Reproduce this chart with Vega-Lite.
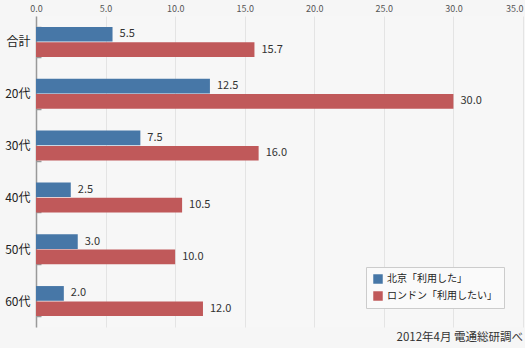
{
  "$schema": "https://vega.github.io/schema/vega-lite/v6.json",
  "width": 487,
  "height": 311,
  "autosize": {"type": "none"},
  "padding": {"left": 36, "top": 16, "right": 2, "bottom": 21},
  "background": "#f6f6f6",
  "config": {
    "font": "Noto Sans CJK JP",
    "view": {"stroke": null, "fill": "#f7f7f7"}
  },
  "title": {
    "text": "2012年4月 電通総研調べ",
    "orient": "bottom",
    "anchor": "end",
    "offset": 5,
    "fontSize": 11.5,
    "fontWeight": "normal",
    "color": "#333333",
    "font": "Noto Sans CJK JP"
  },
  "data": {
    "values": [
      {"category": "合計", "series": "北京「利用した」", "value": 5.5},
      {"category": "合計", "series": "ロンドン「利用したい」", "value": 15.7},
      {"category": "20代", "series": "北京「利用した」", "value": 12.5},
      {"category": "20代", "series": "ロンドン「利用したい」", "value": 30.0},
      {"category": "30代", "series": "北京「利用した」", "value": 7.5},
      {"category": "30代", "series": "ロンドン「利用したい」", "value": 16.0},
      {"category": "40代", "series": "北京「利用した」", "value": 2.5},
      {"category": "40代", "series": "ロンドン「利用したい」", "value": 10.5},
      {"category": "50代", "series": "北京「利用した」", "value": 3.0},
      {"category": "50代", "series": "ロンドン「利用したい」", "value": 10.0},
      {"category": "60代", "series": "北京「利用した」", "value": 2.0},
      {"category": "60代", "series": "ロンドン「利用したい」", "value": 12.0}
    ]
  },
  "encoding": {
    "y": {
      "field": "category",
      "type": "nominal",
      "sort": ["合計", "20代", "30代", "40代", "50代", "60代"],
      "scale": {"paddingInner": 0.42, "paddingOuter": 0.21},
      "axis": {
        "title": null,
        "domainColor": "#999999",
        "domainWidth": 1.5,
        "tickColor": "#999999",
        "tickWidth": 1.5,
        "tickSize": -5,
        "tickBand": "extent",
        "labelPadding": 11,
        "labelFontSize": 12,
        "labelColor": "#222222",
        "grid": false
      }
    },
    "yOffset": {
      "field": "series",
      "type": "nominal",
      "sort": ["北京「利用した」", "ロンドン「利用したい」"],
      "scale": {"paddingInner": 0.04}
    },
    "x": {
      "field": "value",
      "type": "quantitative",
      "scale": {"domain": [0, 35], "nice": false},
      "axis": {
        "orient": "top",
        "title": null,
        "values": [0, 5, 10, 15, 20, 25, 30, 35],
        "format": ".1f",
        "domain": false,
        "ticks": false,
        "labelPadding": 3,
        "labelFontSize": 9,
        "labelColor": "#555555",
        "labelAlign": {"condition": {"test": "datum.value == 35", "value": "right"}, "value": "center"},
        "grid": true,
        "gridColor": "#e4e4e4",
        "gridWidth": 1
      }
    }
  },
  "layer": [
    {
      "mark": {"type": "bar"},
      "encoding": {
        "color": {
          "field": "series",
          "type": "nominal",
          "sort": ["北京「利用した」", "ロンドン「利用したい」"],
          "scale": {"range": ["#4777a7", "#c0595a"]},
          "legend": {
            "title": null,
            "orient": "bottom-right",
            "offset": 19,
            "fillColor": "#fafafa",
            "strokeColor": "#cccccc",
            "padding": 7,
            "labelFontSize": 10,
            "labelColor": "#222222",
            "symbolType": "square",
            "symbolSize": 90,
            "symbolStrokeWidth": 0,
            "rowPadding": 7,
            "labelLimit": 300
          }
        }
      }
    },
    {
      "mark": {"type": "text", "align": "left", "baseline": "middle", "dx": 7, "fontSize": 11, "color": "#333333"},
      "encoding": {
        "text": {"field": "value", "type": "quantitative", "format": ".1f"}
      }
    }
  ]
}
